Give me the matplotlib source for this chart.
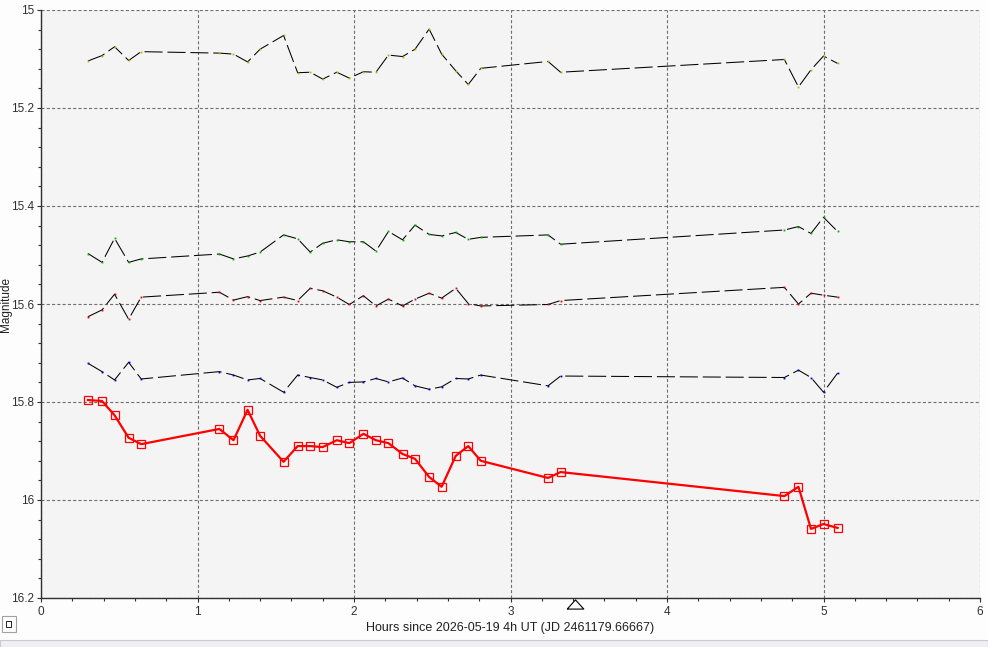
import matplotlib
matplotlib.use("Agg")
import matplotlib.pyplot as plt
from matplotlib.ticker import MultipleLocator, FuncFormatter
from matplotlib.patches import Rectangle
import matplotlib.transforms as mtransforms

plt.rcParams['font.family'] = ['Liberation Sans', 'DejaVu Sans']
plt.rcParams['lines.scale_dashes'] = False

# hours since 2026-05-19 4h UT
hours = [0.30, 0.39, 0.47, 0.56, 0.64, 1.14, 1.23, 1.32, 1.40, 1.55, 1.64, 1.72,
         1.80, 1.89, 1.97, 2.06, 2.14, 2.22, 2.31, 2.39, 2.48, 2.56, 2.65, 2.73,
         2.81, 3.24, 3.32, 4.75, 4.84, 4.92, 5.00, 5.09]

target = [15.796, 15.798, 15.827, 15.873, 15.886, 15.855, 15.878, 15.816, 15.869,
          15.922, 15.890, 15.890, 15.892, 15.878, 15.884, 15.865, 15.878, 15.884,
          15.906, 15.916, 15.953, 15.973, 15.910, 15.890, 15.920, 15.955, 15.943,
          15.992, 15.973, 16.059, 16.049, 16.057]

comp1 = [15.104, 15.093, 15.075, 15.103, 15.085, 15.088, 15.090, 15.106, 15.080,
         15.052, 15.128, 15.127, 15.141, 15.127, 15.139, 15.126, 15.127, 15.092,
         15.095, 15.080, 15.039, 15.090, 15.124, 15.152, 15.119, 15.105, 15.127,
         15.101, 15.157, 15.122, 15.094, 15.109]

comp2 = [15.497, 15.515, 15.466, 15.515, 15.508, 15.498, 15.508, 15.502, 15.494,
         15.459, 15.467, 15.494, 15.476, 15.469, 15.473, 15.473, 15.492, 15.452,
         15.469, 15.439, 15.458, 15.461, 15.454, 15.468, 15.464, 15.459, 15.478,
         15.449, 15.442, 15.456, 15.423, 15.452]

comp3 = [15.626, 15.612, 15.580, 15.631, 15.586, 15.576, 15.592, 15.585, 15.593,
         15.586, 15.593, 15.568, 15.573, 15.586, 15.601, 15.583, 15.604, 15.590,
         15.604, 15.590, 15.578, 15.588, 15.568, 15.599, 15.604, 15.601, 15.593,
         15.566, 15.600, 15.578, 15.582, 15.586]

comp4 = [15.721, 15.738, 15.755, 15.719, 15.753, 15.738, 15.745, 15.755, 15.752,
         15.780, 15.745, 15.750, 15.755, 15.770, 15.760, 15.759, 15.752, 15.759,
         15.751, 15.767, 15.774, 15.769, 15.752, 15.753, 15.745, 15.767, 15.747,
         15.750, 15.735, 15.750, 15.780, 15.741]

comp_colors = ['#b8b800', '#00b000', '#e00000', '#0000d0']

marker_time = [3.41]

fig = plt.figure(figsize=(9.88, 6.47), dpi=100, facecolor='#fdfdfd')
ax = fig.add_axes([41 / 988, 1 - 598 / 647, 939 / 988, 588 / 647])
ax.set_facecolor('#f4f4f4')

for vals, c in zip([comp1, comp2, comp3, comp4], comp_colors):
    ax.plot(hours, vals, color='black', lw=0.75, dashes=(13, 3.5),
            zorder=3)
    ax.plot(hours, vals, ls='none', marker='s', ms=1.3, mew=0, color=c,
            zorder=4)

ax.plot(hours, target, color='#ff0000', lw=1.6, zorder=5)
ax.plot(hours, target, ls='none', marker='s', ms=5.5, mfc='none',
        mec='#ff0000', mew=0.9, zorder=6)

ax.set_xlim(0, 6)
ax.set_ylim(16.2, 15)

ax.xaxis.set_major_locator(MultipleLocator(1))
ax.xaxis.set_minor_locator(MultipleLocator(0.2))
ax.yaxis.set_major_locator(MultipleLocator(0.2))
ax.yaxis.set_minor_locator(MultipleLocator(0.04))
ax.yaxis.set_major_formatter(FuncFormatter(lambda v, p: f"{v:g}"))

ax.grid(True, which='major', color='#6e6e6e', lw=0.8, dashes=(2.2, 1.6))
ax.set_axisbelow(True)

for s in ['top', 'right']:
    ax.spines[s].set_visible(False)
for s in ['left', 'bottom']:
    ax.spines[s].set_color('#303030')
    ax.spines[s].set_linewidth(1.0)

ax.tick_params(which='major', direction='out', length=3, width=0.8,
               colors='#303030', labelsize=8.5, pad=2)
ax.tick_params(which='minor', direction='out', length=2, width=0.8,
               colors='#303030')
ax.tick_params(axis='x', pad=3)

ax.set_xlabel('Hours since 2026-05-19 4h UT (JD 2461179.66667)', fontsize=9,
              color='#202020', labelpad=3)
ax.set_ylabel('Magnitude', fontsize=8.5, color='#202020')
ax.yaxis.label.set_va('center')
ax.yaxis.set_label_coords(-35 / 939, 0.5)

# time marker below the axis
trans = mtransforms.blended_transform_factory(ax.transData, ax.transAxes)
ax.plot(marker_time, [-0.011], transform=trans, clip_on=False, ls='none',
        marker=[(-1, -0.55), (1, -0.55), (0, 0.55), (-1, -0.55)], ms=12,
        mfc='white', mec='black', mew=0.8, zorder=7)

# small checkbox and bottom strip
fig.patches.append(Rectangle((2 / 988, 1 - 632 / 647), 14 / 988, 16 / 647,
                             transform=fig.transFigure, fc='white',
                             ec='#a0a0a0', lw=0.8))
fig.patches.append(Rectangle((6 / 988, 1 - 627 / 647), 5 / 988, 6 / 647,
                             transform=fig.transFigure, fc='none',
                             ec='#202020', lw=0.7))
fig.patches.append(Rectangle((0, 0), 1, 7 / 647, transform=fig.transFigure,
                             fc='#f0f0f0', ec='#c8c8d8', lw=0.8))

fig.savefig('out.png', dpi=100, facecolor=fig.get_facecolor())
